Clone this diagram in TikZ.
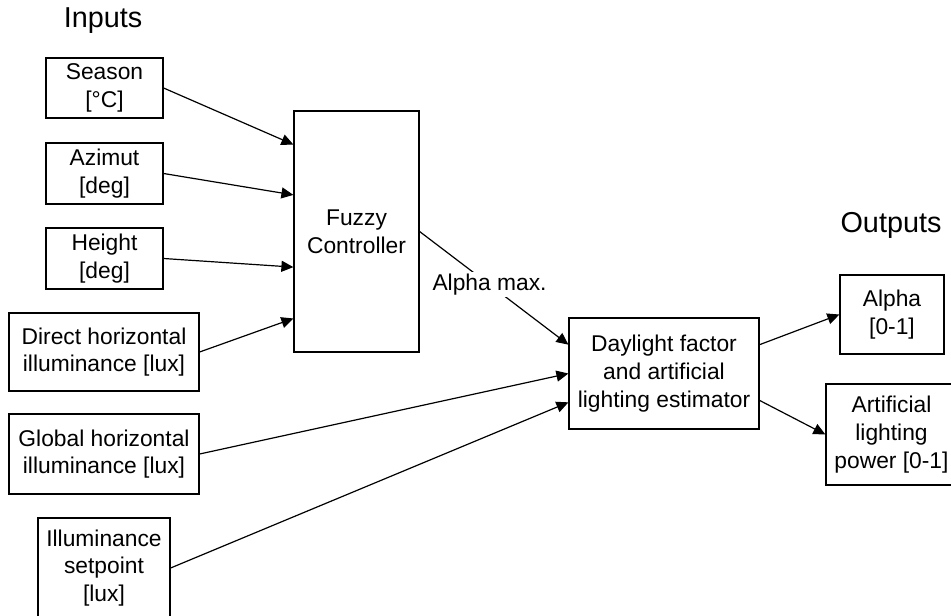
\documentclass[tikz,border=0pt]{standalone}
\usepackage{fontspec}
\setmainfont{Liberation Sans}
\usetikzlibrary{calc,arrows.meta}

\begin{document}
\begin{tikzpicture}[x=0.5pt,y=-0.5pt,
    block/.style={draw,line width=0.6pt,align=center,inner sep=0pt,font=\fontsize{11.4}{13.8}\selectfont},
    flow/.style={-{Triangle[length=6pt,width=5.5pt]},line width=0.6pt},
    heading/.style={font=\fontsize{14.4}{17}\selectfont}]
    \useasboundingbox (0,0) rectangle (951,615);
    \clip (0,0) rectangle (951,615);

    % Headings
    \node[heading] (inputs) at (103,21) {Inputs};
    \node[heading] (outputs) at (891,225) {Outputs};

    % Input blocks
    \node[block,minimum width=58.5pt,minimum height=30pt] (season) at (104.5,88) {Season\\{[°C]}};
    \node[block,minimum width=58.5pt,minimum height=30.5pt] (azimut) at (104.5,173.5) {Azimut\\{[deg]}};
    \node[block,minimum width=58.5pt,minimum height=30.5pt] (height) at (104.5,258.5) {Height\\{[deg]}};
    \node[block,minimum width=95pt,minimum height=39pt] (direct) at (104,352) {Direct horizontal\\illuminance [lux]};
    \node[block,minimum width=95pt,minimum height=40pt] (global) at (104,454) {Global horizontal\\illuminance [lux]};
    \node[block,minimum width=66pt,minimum height=50pt] (setpoint) at (104,568) {Illuminance\\setpoint\\{[lux]}};

    % Processing blocks
    \node[block,minimum width=62.5pt,minimum height=120.5pt] (fuzzy) at (356.5,231.5) {Fuzzy\\Controller};
    \node[block,minimum width=95pt,minimum height=55.5pt] (daylight) at (664,373.5) {Daylight factor\\and artificial\\lighting estimator};

    % Output blocks
    \node[block,minimum width=52pt,minimum height=39.5pt] (alpha) at (892,314.5) {Alpha\\{[0-1]}};
    \node[block,minimum width=65.5pt,minimum height=50.5pt] (artificial) at (891.5,434.5) {Artificial\\lighting\\power [0-1]};

    % Inputs to the fuzzy controller
    \draw[flow] (season.east) -- ($(fuzzy.north west)!0.141!(fuzzy.south west)$);
    \draw[flow] (azimut.east) -- ($(fuzzy.north west)!0.349!(fuzzy.south west)$);
    \draw[flow] (height.east) -- ($(fuzzy.north west)!0.647!(fuzzy.south west)$);
    \draw[flow] (direct.east) -- ($(fuzzy.north west)!0.859!(fuzzy.south west)$);

    % Inputs to the estimator
    \draw[flow] (fuzzy.east) -- node[pos=0.47,fill=white,inner sep=1pt,font=\fontsize{11.4}{13.8}\selectfont] (alphamax) {Alpha max.} ($(daylight.north west)!0.243!(daylight.south west)$);
    \draw[flow] (global.east) -- (daylight.west);
    \draw[flow] (setpoint.east) -- ($(daylight.north west)!0.757!(daylight.south west)$);

    % Outputs
    \draw[flow] ($(daylight.north east)!0.243!(daylight.south east)$) -- (alpha.west);
    \draw[flow] ($(daylight.north east)!0.74!(daylight.south east)$) -- (artificial.west);
\end{tikzpicture}
\end{document}
